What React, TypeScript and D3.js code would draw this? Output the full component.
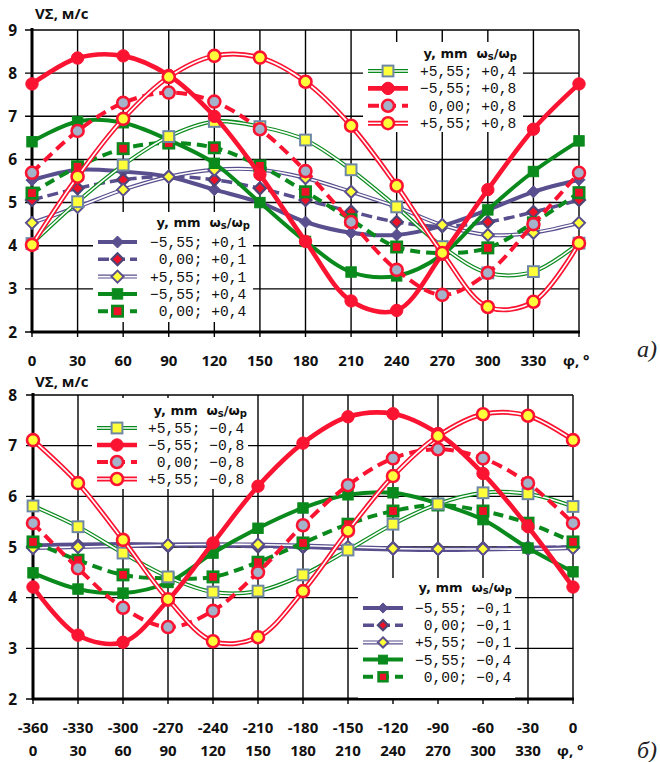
import React from 'react';
import * as d3 from 'd3';

// Angle φ, degrees
const PHI = d3.range(0, 361, 30);

// Panel a) — ωs/ωp > 0
const topPurpleSolid = [5.52, 5.76, 5.72, 5.6, 5.3, 5.0, 4.55, 4.3, 4.25, 4.46, 4.83, 5.25, 5.53];
const topPurpleDash = [5.06, 5.33, 5.53, 5.6, 5.53, 5.33, 5.06, 4.79, 4.55, 4.45, 4.55, 4.78, 5.06];
const topPurpleDouble = [4.53, 4.9, 5.3, 5.6, 5.76, 5.76, 5.57, 5.25, 4.9, 4.48, 4.25, 4.3, 4.53];
const topGreenSolid = [6.41, 6.88, 6.85, 6.45, 5.91, 5.0, 4.1, 3.39, 3.3, 3.79, 4.83, 5.72, 6.43];
const topGreenDash = [5.22, 5.83, 6.25, 6.38, 6.27, 5.85, 5.25, 4.6, 3.97, 3.83, 3.95, 4.53, 5.23];
const topGreenDouble = [4.05, 5.02, 5.87, 6.53, 6.88, 6.76, 6.45, 5.76, 4.9, 3.98, 3.37, 3.4, 4.06];
const topRedSolid = [7.75, 8.35, 8.4, 7.95, 7.0, 5.65, 4.1, 2.72, 2.5, 3.8, 5.3, 6.7, 7.75];
const topRedDash = [5.69, 6.66, 7.31, 7.55, 7.34, 6.7, 5.73, 4.55, 3.44, 2.86, 3.37, 4.5, 5.69];
const topRedDouble = [4.02, 5.6, 6.94, 7.91, 8.4, 8.36, 7.8, 6.78, 5.39, 3.83, 2.58, 2.7, 4.06];

// Panel б) — ωs/ωp < 0
const botPurpleSolid = [5.03, 5.05, 5.06, 5.05, 5.05, 5.03, 5.0, 4.97, 4.95, 4.94, 4.95, 4.97, 5.0];
const botPurpleDash = [5.0, 5.02, 5.02, 5.02, 5.02, 5.01, 5.0, 4.98, 4.98, 4.97, 4.98, 4.99, 5.0];
const botPurpleDouble = [4.98, 5.0, 5.02, 5.04, 5.05, 5.05, 5.03, 5.0, 4.97, 4.96, 4.96, 4.96, 4.98];
const botGreenSolid = [4.49, 4.17, 4.09, 4.3, 4.88, 5.37, 5.77, 6.03, 6.07, 5.86, 5.54, 4.98, 4.51];
const botGreenDash = [5.1, 4.74, 4.45, 4.38, 4.41, 4.7, 5.08, 5.45, 5.71, 5.83, 5.71, 5.47, 5.1];
const botGreenDouble = [5.81, 5.4, 4.88, 4.41, 4.11, 4.13, 4.45, 4.94, 5.45, 5.85, 6.07, 6.05, 5.8];
const botRedSolid = [4.21, 3.26, 3.12, 3.95, 5.08, 6.2, 7.05, 7.57, 7.63, 7.24, 6.45, 5.4, 4.21];
const botRedDash = [5.47, 4.58, 3.8, 3.42, 3.74, 4.5, 5.43, 6.22, 6.75, 6.93, 6.75, 6.26, 5.47];
const botRedDouble = [7.11, 6.26, 5.14, 3.97, 3.14, 3.22, 4.13, 5.32, 6.4, 7.19, 7.62, 7.59, 7.11];

const topLabels = ['−5,55; +0,1', ' 0,00; +0,1', '+5,55; +0,1', '−5,55; +0,4', ' 0,00; +0,4', '+5,55; +0,4', '−5,55; +0,8', ' 0,00; +0,8', '+5,55; +0,8'];
const botLabels = ['−5,55; −0,1', ' 0,00; −0,1', '+5,55; −0,1', '−5,55; −0,4', ' 0,00; −0,4', '+5,55; −0,4', '−5,55; −0,8', ' 0,00; −0,8', '+5,55; −0,8'];

const TOP_Y_TICKS = [2, 3, 4, 5, 6, 7, 8, 9];
const BOT_Y_TICKS = [2, 3, 4, 5, 6, 7, 8];

const PURPLE = '#5a4f8e';
const GREEN = '#0a8a1c';
const RED = '#fb1432';
const YELLOW = '#ffff3a';
const FILL_RED = '#ee1128';
const GREYBLUE = '#a4b3ca';
const SQ_EDGE = '#6f87a6';

type Shape = 'diamond' | 'square' | 'circle';
interface Style {
  color: string;
  kind: 'solid' | 'dash' | 'double';
  width: number;
  dash?: string;
  shape: Shape;
  size: number;
  fill: string;
  edge: string;
  edgeW: number;
}

// Nine series styles, in drawing order
const STYLES: Style[] = [
  { color: PURPLE, kind: 'solid', width: 4, shape: 'diamond', size: 6, fill: PURPLE, edge: PURPLE, edgeW: 1 },
  { color: PURPLE, kind: 'dash', width: 3.5, dash: '11,5', shape: 'diamond', size: 6, fill: FILL_RED, edge: '#4c4575', edgeW: 2.2 },
  { color: PURPLE, kind: 'double', width: 4, shape: 'diamond', size: 6, fill: YELLOW, edge: PURPLE, edgeW: 2 },
  { color: GREEN, kind: 'solid', width: 4, shape: 'square', size: 5.2, fill: GREEN, edge: GREEN, edgeW: 1 },
  { color: GREEN, kind: 'dash', width: 4, dash: '10,6', shape: 'square', size: 5.2, fill: FILL_RED, edge: GREEN, edgeW: 2.6 },
  { color: GREEN, kind: 'double', width: 4, shape: 'square', size: 5.4, fill: YELLOW, edge: SQ_EDGE, edgeW: 2 },
  { color: RED, kind: 'solid', width: 4.6, shape: 'circle', size: 6.2, fill: RED, edge: RED, edgeW: 1 },
  { color: RED, kind: 'dash', width: 4, dash: '11,6', shape: 'circle', size: 6, fill: GREYBLUE, edge: RED, edgeW: 2.6 },
  { color: RED, kind: 'double', width: 5, shape: 'circle', size: 6, fill: YELLOW, edge: RED, edgeW: 2.6 },
];

const TICK_FONT = "'Open Sans', 'DejaVu Sans', sans-serif";
const MONO = "'Liberation Mono', 'DejaVu Sans Mono', monospace";

function Marker({ s, x, y, k = 1 }: { s: Style; x: number; y: number; k?: number }) {
  const r = s.size * k;
  if (s.shape === 'circle') {
    return <circle cx={x} cy={y} r={r} fill={s.fill} stroke={s.edge} strokeWidth={s.edgeW} />;
  }
  if (s.shape === 'square') {
    return <rect x={x - r} y={y - r} width={2 * r} height={2 * r} fill={s.fill} stroke={s.edge} strokeWidth={s.edgeW} />;
  }
  const pts = `${x},${y - r} ${x + r},${y} ${x},${y + r} ${x - r},${y}`;
  return <polygon points={pts} fill={s.fill} stroke={s.edge} strokeWidth={s.edgeW} strokeLinejoin="miter" />;
}

function StrokePath({ s, d }: { s: Style; d: string }) {
  if (s.kind === 'double') {
    return (
      <g fill="none">
        <path d={d} stroke={s.color} strokeWidth={s.width} />
        <path d={d} stroke="#fff" strokeWidth={1.6} />
      </g>
    );
  }
  return <path d={d} fill="none" stroke={s.color} strokeWidth={s.width} strokeDasharray={s.dash} />;
}

interface LegendSpec {
  box: [number, number, number, number];
  titleEnd: number;
  titleY: number;
  lineX0: number;
  lineX1: number;
  textX: number;
  rowY0: number;
  rowStep: number;
  items: number[];
  markerScale: number;
}

function Legend({ spec, labels }: { spec: LegendSpec; labels: string[] }) {
  const [bx, by, bw, bh] = spec.box;
  const mx = (spec.lineX0 + spec.lineX1) / 2;
  return (
    <g>
      <rect x={bx} y={by} width={bw} height={bh} fill="#fff" />
      <text x={spec.titleEnd} y={spec.titleY + 5} textAnchor="end" fontFamily="'DejaVu Sans', sans-serif" fontWeight="bold" fontSize={13} fill="#111">
        y, mm
        <tspan dx={9}>ω</tspan>
        <tspan fontSize={10} dy={2}>s</tspan>
        <tspan dy={-2}>/ω</tspan>
        <tspan fontSize={10} dy={2}>p</tspan>
      </text>
      {spec.items.map((idx, i) => {
        const s = STYLES[idx];
        const y = spec.rowY0 + i * spec.rowStep;
        const d = `M${spec.lineX0},${y}L${spec.lineX1},${y}`;
        return (
          <g key={idx}>
            <StrokePath s={s} d={d} />
            <Marker s={s} x={mx} y={y} k={spec.markerScale} />
            <text x={spec.textX} y={y + 5} fontFamily={MONO} fontSize={14.6} fill="#111" style={{ whiteSpace: 'pre' }}>
              {labels[idx]}
            </text>
          </g>
        );
      })}
    </g>
  );
}

interface PanelProps {
  x0: number;
  x1: number;
  yTop: number;
  yBot: number;
  yTicks: number[];
  series: number[][];
  labels: string[];
  legends: LegendSpec[];
  twoRows: boolean;
  titleY: number;
  tag: string;
  tagY: number;
}

function Panel(p: PanelProps) {
  const x = d3.scaleLinear().domain([0, 360]).range([p.x0, p.x1]);
  const yMin = p.yTicks[0];
  const yMax = p.yTicks[p.yTicks.length - 1];
  const y = d3.scaleLinear().domain([yMin, yMax]).range([p.yBot, p.yTop]);
  const line = d3
    .line<number>()
    .x((_, i) => x(PHI[i]))
    .y((v) => y(v))
    .curve(d3.curveCatmullRom.alpha(0.5));
  const lab1Y = p.yBot + 34;
  const lab2Y = p.yBot + 57;
  const lastRowY = p.twoRows ? lab2Y : lab1Y;
  return (
    <g>
      {/* grid */}
      {PHI.map((v) => (
        <line key={'v' + v} x1={x(v)} x2={x(v)} y1={p.yTop} y2={p.yBot + 5} stroke="#000" strokeWidth={1.4} />
      ))}
      {p.yTicks.map((v) => (
        <line key={'h' + v} x1={p.x0 - 7} x2={p.x1} y1={y(v)} y2={y(v)} stroke="#000" strokeWidth={1.4} />
      ))}
      {/* axes */}
      <line x1={p.x0} x2={p.x0} y1={p.yTop - 2} y2={p.yBot + 1} stroke="#000" strokeWidth={3} />
      <line x1={p.x0 - 1} x2={p.x1 + 1} y1={p.yBot} y2={p.yBot} stroke="#000" strokeWidth={3} />
      {/* tick labels */}
      {p.yTicks.map((v) => (
        <text key={'yl' + v} x={17} y={y(v) + 5.5} textAnchor="end" fontFamily={TICK_FONT} fontWeight="bold" fontSize={15.5} fill="#111">
          {v}
        </text>
      ))}
      {PHI.slice(0, 12).map((v) => (
        <text key={'xl' + v} x={x(v)} y={lastRowY} textAnchor="middle" fontFamily={TICK_FONT} fontWeight="bold" fontSize={15} fill="#111">
          {v}
        </text>
      ))}
      {p.twoRows &&
        PHI.map((v) => (
          <text key={'xn' + v} x={x(v)} y={lab1Y} textAnchor="middle" fontFamily={TICK_FONT} fontWeight="bold" fontSize={15} fill="#111">
            {v - 360}
          </text>
        ))}
      <text x={x(360) - 16} y={lastRowY} fontFamily={TICK_FONT} fontWeight="bold" fontSize={15} fill="#111">
        φ, °
      </text>
      <text x={35} y={p.titleY} fontFamily={TICK_FONT} fontWeight="bold" fontSize={15} fill="#111">
        VΣ, м/с
      </text>
      <text x={637} y={p.tagY} fontFamily="'Liberation Serif', 'DejaVu Serif', serif" fontStyle="italic" fontSize={24} fill="#222">
        {p.tag}
      </text>
      {/* series */}
      {p.series.map((vals, si) => {
        const s = STYLES[si];
        return (
          <g key={'s' + si}>
            <StrokePath s={s} d={line(vals) || ''} />
            {vals.map((v, i) => (
              <Marker key={i} s={s} x={x(PHI[i])} y={y(v)} />
            ))}
          </g>
        );
      })}
      {p.legends.map((l, i) => (
        <Legend key={i} spec={l} labels={p.labels} />
      ))}
    </g>
  );
}

const TOP_LEGENDS: LegendSpec[] = [
  { box: [363, 42, 160, 90], titleEnd: 517, titleY: 53, lineX0: 368, lineX1: 408, textX: 420, rowY0: 71, rowStep: 17.4, items: [5, 6, 7, 8], markerScale: 1 },
  { box: [93, 212, 160, 110], titleEnd: 250, titleY: 222, lineX0: 98, lineX1: 137, textX: 150, rowY0: 242, rowStep: 17.3, items: [0, 1, 2, 3, 4], markerScale: 1 },
];

const BOT_LEGENDS: LegendSpec[] = [
  { box: [92, 398, 156, 91], titleEnd: 247, titleY: 410, lineX0: 97, lineX1: 137, textX: 148, rowY0: 428, rowStep: 17, items: [5, 6, 7, 8], markerScale: 1 },
  { box: [358, 578, 157, 120], titleEnd: 512, titleY: 587, lineX0: 363, lineX1: 403, textX: 415, rowY0: 608, rowStep: 17.2, items: [0, 1, 2, 3, 4], markerScale: 0.85 },
];

export default function App() {
  const topSeries = [topPurpleSolid, topPurpleDash, topPurpleDouble, topGreenSolid, topGreenDash, topGreenDouble, topRedSolid, topRedDash, topRedDouble];
  const botSeries = [botPurpleSolid, botPurpleDash, botPurpleDouble, botGreenSolid, botGreenDash, botGreenDouble, botRedSolid, botRedDash, botRedDouble];
  return (
    <svg width={660} height={762} style={{ position: 'absolute', left: 0, top: 0, background: '#fff' }}>
      <rect width={660} height={762} fill="#fff" />
      <Panel x0={32} x1={579} yTop={30} yBot={332} yTicks={TOP_Y_TICKS} series={topSeries} labels={topLabels} legends={TOP_LEGENDS} twoRows={false} titleY={19} tag="a)" tagY={357} />
      <Panel x0={33} x1={573} yTop={395} yBot={699} yTicks={BOT_Y_TICKS} series={botSeries} labels={botLabels} legends={BOT_LEGENDS} twoRows={true} titleY={387} tag="б)" tagY={758} />
    </svg>
  );
}
